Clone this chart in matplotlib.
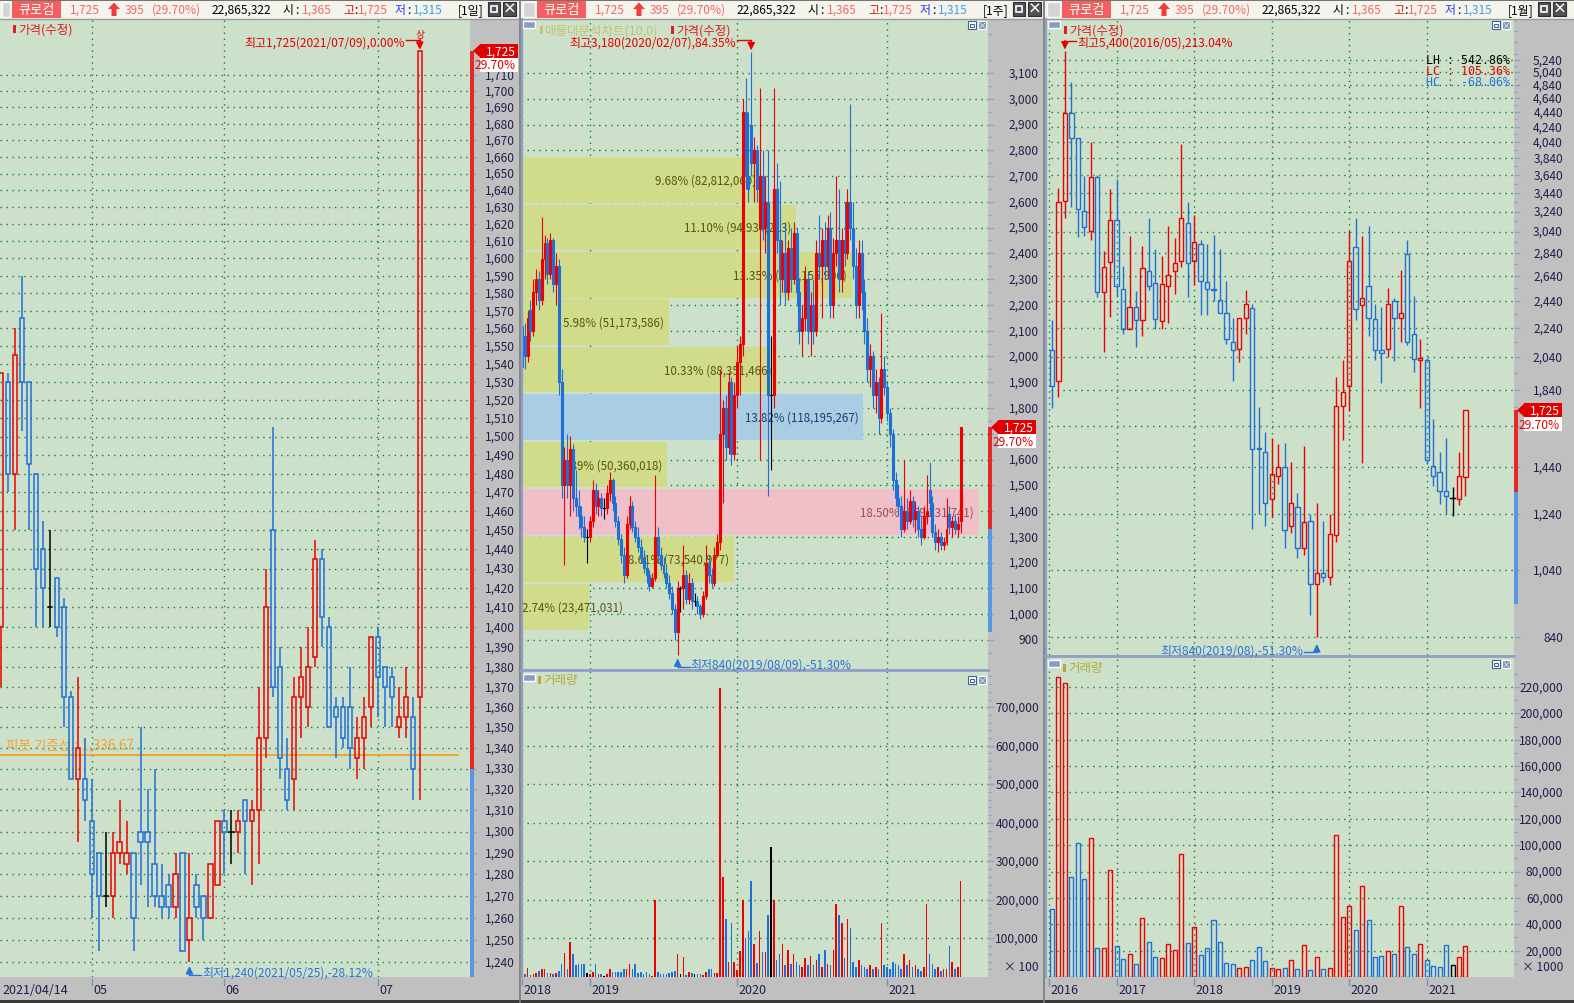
import matplotlib
matplotlib.use('Agg')
import matplotlib.pyplot as plt
import matplotlib.transforms as mtransforms
from matplotlib.patches import Rectangle, Polygon
from matplotlib.ticker import NullLocator, NullFormatter, FixedLocator

plt.rcParams['font.family'] = ['Noto Sans CJK KR', 'DejaVu Sans']
plt.rcParams['axes.unicode_minus'] = False

# ======================= DATA =======================
stock_name = '큐로컴'
last_price = 1725
prev_close = 1330
change = 395
change_pct = 29.70
today_volume = 22865322
today_open, today_high, today_low = 1365, 1725, 1315
pivot_line = 1336.67
support_level = 932

# ---- daily candles 2021/04/14 .. 2021/07/09 ----
d_open = [1400, 1530, 1480, 1566, 1530, 1480, 1440, 1410, 1425, 1410,
          1365, 1325, 1325, 1305, 1290, 1270, 1270, 1290, 1285, 1290,
          1300, 1300, 1285, 1270, 1275, 1265, 1290, 1250, 1275, 1270,
          1260, 1275, 1305, 1300, 1300, 1315, 1305, 1310, 1345, 1450,
          1380, 1330, 1325, 1365, 1360, 1385, 1435, 1400, 1360, 1360,
          1360, 1335, 1345, 1360, 1395, 1380, 1375, 1350, 1355, 1355,
          1365]
d_high = [1535, 1535, 1560, 1590, 1530, 1480, 1455, 1450, 1425, 1415,
          1368, 1375, 1345, 1325, 1290, 1300, 1300, 1315, 1305, 1290,
          1350, 1320, 1330, 1285, 1280, 1290, 1290, 1290, 1280, 1270,
          1285, 1305, 1310, 1310, 1310, 1315, 1315, 1370, 1430, 1505,
          1390, 1345, 1375, 1390, 1400, 1445, 1440, 1405, 1365, 1365,
          1380, 1355, 1365, 1395, 1400, 1380, 1380, 1370, 1380, 1365,
          1725]
d_low = [1370, 1470, 1450, 1503, 1450, 1400, 1400, 1400, 1395, 1350,
         1325, 1295, 1305, 1260, 1245, 1265, 1260, 1285, 1280, 1245,
         1275, 1265, 1265, 1260, 1260, 1260, 1245, 1240, 1260, 1250,
         1260, 1275, 1280, 1285, 1290, 1280, 1275, 1285, 1335, 1365,
         1325, 1310, 1310, 1345, 1350, 1380, 1390, 1350, 1335, 1340,
         1330, 1325, 1330, 1350, 1355, 1350, 1350, 1345, 1345, 1315,
         1315]
d_close = [1535, 1480, 1545, 1530, 1485, 1430, 1420, 1410, 1400, 1365,
           1325, 1340, 1315, 1280, 1270, 1270, 1290, 1295, 1290, 1260,
           1295, 1295, 1270, 1265, 1265, 1280, 1245, 1260, 1265, 1260,
           1285, 1305, 1300, 1300, 1305, 1305, 1310, 1345, 1410, 1370,
           1335, 1315, 1365, 1375, 1380, 1435, 1405, 1350, 1355, 1345,
           1340, 1345, 1355, 1395, 1375, 1370, 1365, 1355, 1365, 1330,
           1725]
d_axis_labels = ['2021/04/14', '05', '06', '07']
d_axis_idx = [0, 13, 32, 54]
d_hi_date, d_lo_date = '2021/07/09', '2021/05/25'

# ---- weekly candles 2018/07/20 .. 2021/07/09 ----
w_open = [2120, 2080, 2000, 2180, 2100, 2250, 2300, 2220, 2380, 2440,
          2320, 2450, 2280, 2350, 1900, 1500, 1600, 1500, 1640, 1450,
          1420, 1380, 1340, 1300, 1300, 1360, 1480, 1420, 1450, 1410,
          1410, 1470, 1520, 1430, 1360, 1290, 1230, 1150, 1350, 1420,
          1340, 1300, 1260, 1220, 1180, 1150, 1110, 1140, 1300, 1230,
          1190, 1160, 1120, 1080, 1020, 930, 1100, 1100, 1150, 1060,
          1120, 1050, 1050, 1030, 1000, 1070, 1200, 1150, 1120, 1230,
          1280, 1700, 1800, 1650, 1900, 1620, 1850, 1980, 2050, 2950,
          2700, 2900, 2750, 2800, 2500, 2700, 2500, 2600, 1850, 1850,
          2650, 2450, 2300, 2400, 2250, 2420, 2300, 2480, 2250, 2100,
          2150, 2300, 2100, 2200, 2100, 2400, 2350, 2450, 2350, 2500,
          2200, 2400, 2450, 2300, 2450, 2400, 2600, 2500, 2350, 2200,
          2400, 2250, 2100, 1950, 2000, 1850, 1900, 1760, 1950, 1880,
          1780, 1700, 1520, 1450, 1420, 1330, 1400, 1360, 1440, 1370,
          1400, 1330, 1300, 1380, 1480, 1430, 1320, 1280, 1300, 1270,
          1280, 1390, 1340, 1360, 1330, 1360]
w_high = [2150, 2130, 2180, 2220, 2300, 2340, 2330, 2540, 2470, 2460,
          2480, 2460, 2400, 2380, 1950, 1650, 1700, 1690, 1660, 1560,
          1480, 1420, 1380, 1330, 1380, 1520, 1510, 1480, 1470, 1450,
          1500, 1550, 1530, 1460, 1380, 1310, 1260, 1380, 1460, 1440,
          1360, 1340, 1290, 1250, 1210, 1170, 1160, 1540, 1340, 1260,
          1220, 1190, 1150, 1110, 1040, 1130, 1110, 1270, 1170, 1160,
          1140, 1080, 1070, 1040, 1090, 1270, 1230, 1180, 1260, 1310,
          1950, 1830, 1850, 1940, 1920, 1900, 2040, 2080, 3000, 3080,
          2950, 3180, 2850, 2820, 3040, 2800, 2700, 2800, 2080, 3040,
          2750, 2680, 2450, 2520, 2450, 2500, 2520, 2500, 2300, 2200,
          2350, 2330, 2250, 2300, 2450, 2550, 2500, 2520, 2550, 2560,
          2460, 2700, 2650, 2500, 2600, 2650, 2980, 2600, 2420, 2450,
          2450, 2300, 2150, 2050, 2020, 1950, 1920, 2170, 2000, 1900,
          1800, 1720, 1550, 1500, 1460, 1600, 1450, 1480, 1460, 1440,
          1420, 1380, 1420, 1540, 1590, 1460, 1350, 1330, 1320, 1300,
          1450, 1420, 1380, 1390, 1380, 1725]
w_low = [1900, 1950, 1980, 2060, 2080, 2200, 2180, 2200, 2300, 2280,
         2300, 2250, 2200, 1850, 1450, 1190, 1450, 1380, 1400, 1380,
         1330, 1300, 1280, 1200, 1280, 1340, 1390, 1380, 1380, 1370,
         1390, 1440, 1400, 1340, 1270, 1200, 1120, 1140, 1330, 1320,
         1280, 1240, 1200, 1160, 1120, 1090, 1100, 1130, 1200, 1170,
         1140, 1100, 1060, 1000, 900, 840, 1010, 1020, 1040, 1040,
         1020, 1030, 1000, 980, 990, 1060, 1120, 1100, 1110, 1220,
         1250, 1430, 1600, 1620, 1580, 1600, 1800, 1850, 2000, 2650,
         2600, 2700, 2600, 2600, 1600, 2450, 2400, 1460, 1560, 1800,
         2400, 2200, 2250, 2200, 2220, 2250, 2280, 2200, 2050, 2000,
         2100, 2050, 2000, 2050, 2080, 2300, 2150, 2300, 2300, 2150,
         2150, 2350, 2250, 2250, 2350, 2380, 2450, 2300, 2150, 2150,
         2180, 2050, 1900, 1880, 1800, 1780, 1700, 1740, 1850, 1750,
         1650, 1480, 1420, 1380, 1300, 1320, 1330, 1350, 1340, 1320,
         1300, 1270, 1290, 1350, 1380, 1300, 1250, 1240, 1250, 1250,
         1270, 1310, 1300, 1310, 1300, 1315]
w_close = [1960, 2000, 2150, 2100, 2250, 2300, 2220, 2380, 2440, 2320,
           2450, 2280, 2350, 1900, 1500, 1600, 1500, 1640, 1450, 1420,
           1380, 1340, 1300, 1300, 1360, 1480, 1420, 1450, 1410, 1410,
           1470, 1520, 1430, 1360, 1290, 1230, 1150, 1350, 1420, 1340,
           1300, 1260, 1220, 1180, 1150, 1110, 1140, 1300, 1230, 1190,
           1160, 1120, 1080, 1020, 930, 1100, 1100, 1150, 1060, 1120,
           1050, 1050, 1030, 1000, 1070, 1200, 1150, 1120, 1230, 1280,
           1700, 1800, 1650, 1900, 1620, 1850, 1980, 2050, 2950, 2700,
           2650, 2750, 2800, 2650, 2700, 2500, 2600, 1850, 1850, 2650,
           2450, 2300, 2400, 2250, 2420, 2300, 2480, 2250, 2100, 2150,
           2300, 2100, 2200, 2100, 2400, 2350, 2450, 2350, 2500, 2200,
           2400, 2450, 2300, 2450, 2400, 2600, 2500, 2350, 2200, 2400,
           2250, 2100, 1950, 2000, 1850, 1900, 1760, 1950, 1880, 1780,
           1700, 1520, 1450, 1420, 1330, 1400, 1360, 1440, 1370, 1400,
           1330, 1300, 1380, 1400, 1430, 1320, 1280, 1300, 1270, 1280,
           1330, 1340, 1360, 1330, 1350, 1725]
w_volume = [15000, 9000, 24000, 4000, 7000, 10000, 15000, 22000, 22000, 11000,
            11000, 9000, 11000, 15000, 35000, 63000, 20000, 92000, 59000, 30000,
            33000, 35000, 33000, 10000, 7000, 13000, 33000, 9000, 9000, 3000,
            9000, 20000, 14000, 14000, 12000, 12000, 22000, 22000, 35000, 22000,
            35000, 10000, 12000, 7000, 12000, 7000, 3000, 200000, 12000, 7000,
            7000, 9000, 10000, 12000, 15000, 60000, 7000, 52000, 4000, 13000,
            10000, 9000, 7000, 7000, 4000, 12000, 20000, 20000, 10000, 10000,
            749000, 260000, 150000, 40000, 140000, 40000, 18000, 68000, 200000, 102000,
            119000, 250000, 85000, 37000, 120000, 64000, 66000, 160000, 338000, 200000,
            45000, 60000, 85000, 30000, 70000, 35000, 60000, 40000, 30000, 25000,
            50000, 30000, 55000, 30000, 45000, 60000, 25000, 70000, 35000, 30000,
            70000, 190000, 160000, 140000, 50000, 150000, 126000, 40000, 25000, 45000,
            30000, 25000, 20000, 30000, 20000, 25000, 20000, 140000, 30000, 25000,
            20000, 40000, 35000, 30000, 20000, 60000, 30000, 45000, 25000, 30000,
            20000, 15000, 25000, 190000, 60000, 35000, 20000, 25000, 15000, 20000,
            20000, 80000, 40000, 20000, 25000, 250000]
w_axis_labels = ['2018', '2019', '2020', '2021']
w_axis_idx = [0, 24, 76, 129]
w_hi_date, w_lo_date = '2020/02/07', '2019/08/09'

# ---- volume profile (매물대분석차트 10 bands, bottom -> top) ----
profile_low, profile_high = 936, 2777
profile_pct = [2.74, 8.61, 18.50, 5.89, 13.82, 10.33, 5.98, 13.35, 11.10, 9.68]
profile_vol = [23471031, 73540977, 158231741, 50360018, 118195267,
               88351466, 51173586, 114155906, 94934213, 82812069]

# ---- monthly candles 2016/03 .. 2021/07 ----
m_open = [2085, 1890, 3350, 4435, 4095, 3245, 3050, 3620, 2510, 2760,
          3150, 2530, 2230, 2390, 2300, 2680, 2580, 2290, 2560, 2685,
          2765, 3120, 2765, 2925, 2590, 2535, 2450, 2345, 2140, 2095,
          2310, 2385, 1530, 1510, 1300, 1400, 1440, 1195, 1270, 1115,
          1215, 995, 1030, 1015, 1160, 1750, 1860, 2895, 2410, 2555,
          2305, 2085, 2095, 2440, 2310, 2835, 2195, 2020, 2025, 1445,
          1420, 1335, 1305, 1300, 1395]
m_high = [2300, 3490, 5400, 4890, 4095, 3625, 4035, 3640, 2860, 3485,
          3595, 2725, 2995, 2520, 2905, 3170, 2880, 2815, 3090, 2975,
          4015, 3340, 3205, 2960, 2925, 3010, 2875, 2595, 2310, 2310,
          2525, 2415, 1745, 1610, 1580, 1550, 1555, 1465, 1325, 1540,
          1240, 1285, 1215, 1240, 1915, 2020, 3050, 3170, 2995, 3090,
          2415, 2390, 2540, 2460, 2690, 2960, 2480, 2160, 2035, 1675,
          1510, 1580, 1350, 1510, 1725]
m_low = [1735, 1800, 3170, 3290, 2990, 3000, 2960, 2470, 2075, 2320,
         2480, 2195, 2230, 2110, 2180, 2525, 2230, 2230, 2275, 2495,
         2720, 2470, 2570, 2335, 2335, 2440, 2345, 2130, 1890, 2010,
         2195, 1185, 1240, 1195, 1230, 1365, 1115, 1170, 1080, 1090,
         900, 840, 1000, 990, 1135, 1570, 1720, 2300, 1460, 2180,
         2025, 1880, 2045, 2015, 2140, 2120, 1950, 1735, 1460, 1355,
         1280, 1240, 1235, 1275, 1315]
m_close = [1865, 3340, 4435, 4095, 3270, 3085, 3620, 2510, 2720, 3150,
           2560, 2230, 2390, 2300, 2705, 2560, 2305, 2575, 2650, 2750,
           3170, 2750, 2945, 2595, 2535, 2525, 2345, 2160, 2090, 2310,
           2415, 1525, 1525, 1285, 1410, 1440, 1180, 1285, 1115, 1210,
           995, 1030, 1015, 1165, 1750, 1825, 2765, 2375, 2460, 2310,
           2085, 2070, 2415, 2310, 2345, 2140, 2030, 2035, 1475, 1400,
           1335, 1315, 1305, 1400, 1725]
m_volume = [51400, 227500, 223000, 76200, 101900, 74100, 105700, 21700, 21700, 81500,
            23200, 13400, 17400, 9800, 45100, 26200, 14900, 14100, 25000, 20200,
            93600, 25500, 37600, 16400, 21700, 42900, 26200, 10600, 9800, 6600,
            7300, 12600, 22400, 11900, 6600, 5800, 6600, 12600, 5800, 24000,
            5000, 14900, 5800, 6600, 107900, 45900, 53500, 35300, 69400, 42900,
            14900, 15600, 19400, 17400, 53500, 22400, 17400, 25000, 12600, 8100,
            7300, 24000, 8800, 14900, 23200]
m_axis_labels = ['2016', '2017', '2018', '2019', '2020', '2021']
m_axis_idx = [-0.5, 10, 22, 34, 46, 58]
m_hi_date, m_lo_date = '2016/05', '2019/08'

# price / volume axis tick values
d_ticks = list(range(1240, 1711, 10))
w_ticks = list(range(900, 3101, 100))
w_minor = list(range(850, 3251, 100))
m_ticks = list(range(840, 5241, 200))
m_minor = list(range(940, 5941, 200))
wv_ticks = list(range(100000, 700001, 100000))
wv_minor = [v for v in range(20000, 780001, 20000) if v % 100000]
mv_ticks = list(range(20000, 220001, 20000))
mv_minor = [v for v in range(10000, 240001, 20000)]

# ======================= STYLE =======================
W, H = 1574, 1004
BG = '#cde1ca'
GRID = '#0b7d3e'
RED = '#ee0000'
BLUE = '#1f6fd8'
BLACK = '#000000'
AXGREY = '#c0c0c0'
TICKC = '#8ea2c6'
LBL = '#1e1e4a'
FS = 8.6
DOTS = (0, (1, 3.3))

fig = plt.figure(figsize=(W / 100, H / 100), dpi=100)
fig.patch.set_facecolor(AXGREY)


def px_axes(x0, y0, x1, y1):
    ax = fig.add_axes([x0 / W, 1 - y1 / H, (x1 - x0) / W, (y1 - y0) / H])
    ax.set_facecolor(BG)
    for s in ax.spines.values():
        s.set_visible(False)
    ax.set_axisbelow(True)
    return ax


def colour(o, c):
    return RED if c > o else (BLUE if c < o else BLACK)


def draw_candles(ax, O, Hi, Lo, C, width, lw, hollow):
    for x, (o, h, l, c) in enumerate(zip(O, Hi, Lo, C)):
        col = colour(o, c)
        top, bot = max(o, c), min(o, c)
        if h > top:
            ax.plot([x, x], [top, h], color=col, lw=lw, solid_capstyle='butt', zorder=4)
        if l < bot:
            ax.plot([x, x], [l, bot], color=col, lw=lw, solid_capstyle='butt', zorder=4)
        if top == bot:
            ax.plot([x - width / 2, x + width / 2], [top, top], color=col, lw=lw, zorder=4)
        else:
            ax.add_patch(Rectangle((x - width / 2, bot), width, top - bot, fill=not hollow,
                                   facecolor=col, edgecolor=col, lw=lw, zorder=4))


def style_axis(ax, ticks, minor, xgrid, label_px, x0, w, fmt, hide_marker=False):
    ax.set_yticks(ticks)
    if minor:
        ax.yaxis.set_minor_locator(FixedLocator(minor))
    else:
        ax.yaxis.set_minor_locator(NullLocator())
    ax.yaxis.set_major_formatter(NullFormatter())
    ax.yaxis.set_minor_formatter(NullFormatter())
    ax.yaxis.set_ticks_position('right')
    ax.tick_params(axis='y', which='major', direction='out', length=4, width=1, color=TICKC)
    ax.tick_params(axis='y', which='minor', direction='out', length=2.5, width=1, color=TICKC)
    ax.set_xticks(xgrid)
    ax.tick_params(axis='x', length=0, labelbottom=False)
    ax.grid(True, which='major', color=GRID, ls=DOTS, lw=1.0)
    tr = mtransforms.blended_transform_factory(ax.transAxes, ax.transData)
    xf = (label_px - x0) / w
    yc = H - ax.transData.transform((0, last_price))[1]
    for t in ticks:
        ty = H - ax.transData.transform((0, t))[1]
        if hide_marker and (yc - 10) < ty < (yc + 22):
            continue  # hidden behind the current-price marker
        ax.text(xf, t, fmt(t), transform=tr, ha='right', va='center', fontsize=FS,
                color=LBL, clip_on=False)


def comma(v):
    return f'{v:,}'


# ---------------- geometry ----------------
P1 = (0, 20, 470, 978)
P2 = (521, 20, 988, 670)
P2V = (521, 672, 988, 978)
P3 = (1045, 20, 1514, 656)
P3V = (1045, 658, 1514, 978)
D_FIRST, D_STEP = 1, 6.98
W_FIRST, W_STEP = 522, 2.83
M_FIRST, M_STEP = 1052, 6.46

# ---------------- left: daily ----------------
ax1 = px_axes(*P1)
ax1.set_yscale('log')
ax1.set_ylim(1233.3, 1745)
ax1.set_xlim((P1[0] - D_FIRST) / D_STEP, (P1[2] - D_FIRST) / D_STEP)
style_axis(ax1, d_ticks, None, d_axis_idx[1:], 515, P1[0], P1[2] - P1[0], comma, True)
draw_candles(ax1, d_open, d_high, d_low, d_close, 0.62, 1.1, True)
ax1.axhline(pivot_line, xmin=0, xmax=458 / 470, color='#f5a020', lw=1.3, zorder=3)
tpiv = mtransforms.offset_copy(mtransforms.blended_transform_factory(ax1.transAxes, ax1.transData),
                               fig=fig, x=0, y=4, units='dots')
ax1.text(6 / 470, pivot_line, f'피봇 기준선 : {pivot_line:,.2f}', transform=tpiv, ha='left',
         va='bottom', fontsize=FS + 1.2, color='#f2a43a', zorder=2)

# ---------------- middle: weekly ----------------
ax2 = px_axes(*P2)
ax2.set_ylim(787, 3309.5)
ax2.set_xlim((P2[0] - W_FIRST) / W_STEP, (P2[2] - W_FIRST) / W_STEP)
style_axis(ax2, w_ticks, w_minor, w_axis_idx, 1039, P2[0], P2[2] - P2[0], comma, True)

trb = mtransforms.blended_transform_factory(ax2.transAxes, ax2.transData)
pstep = (profile_high - profile_low) / len(profile_pct)
pmax = max(profile_pct)
cur_band = int((last_price - profile_low) // pstep)
axw2 = P2[2] - P2[0]
full_frac = 458 / axw2
for k, (p, v) in enumerate(zip(profile_pct, profile_vol)):
    y0 = profile_low + k * pstep
    wf = p / pmax * full_frac
    if p == pmax:
        fc, tc = '#f0c0c8', '#a04858'
    elif k == cur_band:
        fc, tc = '#a9cde2', '#1a3c6c'
    else:
        fc, tc = '#d0dc8a', '#55550f'
    ax2.add_patch(Rectangle((0, y0 + pstep * 0.02), wf, pstep * 0.96, transform=trb,
                            fc=fc, ec='none', zorder=1))
    label = f'{p:.2f}% ({v:,})'
    if wf * axw2 > 118:
        ax2.text(wf - 5 / axw2, y0 + pstep / 2, label, transform=trb, ha='right', va='center',
                 fontsize=8.3, color=tc, zorder=2)
    else:
        ax2.text(1 / axw2, y0 + pstep / 2, label, transform=trb, ha='left', va='center',
                 fontsize=8.3, color=tc, zorder=2)
draw_candles(ax2, w_open, w_high, w_low, w_close, 0.7, 0.8, False)

ax2v = px_axes(*P2V)
ax2v.set_ylim(0, 794000)
ax2v.set_xlim(ax2.get_xlim())
style_axis(ax2v, wv_ticks, wv_minor, w_axis_idx, 1039, P2V[0], P2V[2] - P2V[0], comma)
wcols = [colour(o, c) for o, c in zip(w_open, w_close)]
ax2v.bar(range(len(w_volume)), w_volume, width=0.55, color=wcols, lw=0, zorder=3)

# ---------------- right: monthly ----------------
ax3 = px_axes(*P3)
ax3.set_yscale('log')
ax3.set_ylim(793.4, 5968)
ax3.set_xlim((P3[0] - M_FIRST) / M_STEP, (P3[2] - M_FIRST) / M_STEP)
style_axis(ax3, m_ticks, m_minor, m_axis_idx, 1563, P3[0], P3[2] - P3[0], comma, True)
draw_candles(ax3, m_open, m_high, m_low, m_close, 0.66, 1.0, True)

ax3v = px_axes(*P3V)
ax3v.set_ylim(0, 242800)
ax3v.set_xlim(ax3.get_xlim())
style_axis(ax3v, mv_ticks, mv_minor, m_axis_idx, 1563, P3V[0], P3V[2] - P3V[0], comma)
mcols = [colour(o, c) for o, c in zip(m_open, m_close)]
ax3v.bar(range(len(m_volume)), m_volume, width=0.62, fill=False, edgecolor=mcols, lw=1.0, zorder=3)

# ======================= OVERLAY (pixel coords) =======================
ov = fig.add_axes([0, 0, 1, 1], zorder=10)
ov.set_xlim(0, W)
ov.set_ylim(H, 0)
ov.axis('off')
ov.patch.set_alpha(0)


def to_px(ax, x, y):
    X, Y = ax.transData.transform((x, y))
    return X, H - Y


SAL = '#f26a6a'


def header(p0, p1, rb, period):
    ov.add_patch(Rectangle((p0, 0), p1 - p0, 20, fc='#f4f4ec', ec='none'))
    ov.plot([p0, p1], [0.8, 0.8], color='#5a5a5a', lw=1.2)
    ov.plot([p0, p1], [19.6, 19.6], color='#9a9a9a', lw=1)
    ov.add_patch(Rectangle((p0 + 1.5, 2.5), rb - p0 - 4, 15, fc='#d4d4d4', ec='#f8f8f8', lw=1))
    ov.add_patch(Rectangle((rb, 2), 49, 16.5, fc='#f25f5f', ec='none'))
    ov.text(rb + 24.5, 10.5, stock_name, color='white', ha='center', va='center', fontsize=9.5)
    y = 10.5
    kw = dict(va='center', fontsize=FS)
    ov.text(rb + 58, y, f'{last_price:,}', color=SAL, **kw)
    cx = rb + 102
    ov.add_patch(Polygon([[cx, 3.5], [cx - 6, 10], [cx - 2.5, 10], [cx - 2.5, 17],
                          [cx + 2.5, 17], [cx + 2.5, 10], [cx + 6, 10]], closed=True,
                         fc='#f03c3c', ec='none'))
    ov.text(rb + 113, y, f'{change}', color=SAL, **kw)
    ov.text(rb + 140, y, f'({change_pct:.2f}%)', color=SAL, **kw)
    ov.text(rb + 200, y, f'{today_volume:,}', color='black', **kw)
    ov.text(rb + 271, y, '시', color='black', **kw)
    ov.text(rb + 283, y, ':', color='black', **kw)
    ov.text(rb + 290, y, f'{today_open:,}', color=SAL, **kw)
    ov.text(rb + 331, y, '고', color='#e01010', **kw)
    ov.text(rb + 342, y, ':', color='black', **kw)
    ov.text(rb + 346, y, f'{today_high:,}', color=SAL, **kw)
    ov.text(rb + 383, y, '저', color='#2a36ff', **kw)
    ov.text(rb + 395, y, ':', color='black', **kw)
    ov.text(rb + 401, y, f'{today_low:,}', color='#3ca0e6', **kw)
    ov.text(rb + 446, y, period, color='black', **kw)
    ov.add_patch(Rectangle((rb + 476, 3), 12, 14, fc='#505058', ec='#303030', lw=0.8))
    ov.add_patch(Rectangle((rb + 491, 3), 13, 14, fc='#505058', ec='#303030', lw=0.8))
    ov.add_patch(Rectangle((rb + 479, 7), 6, 5.5, fc='none', ec='white', lw=1.2))
    ov.text(rb + 497.5, 10, '×', color='white', ha='center', va='center', fontsize=10,
            fontweight='bold')


header(0, 519, 12, '[1일]')
header(521, 1043, 537, '[1주]')
header(1045, 1574, 1062, '[1월]')

# dividers / borders
ov.plot([519.5, 519.5], [0, H], color='#7c7c7c', lw=1.2)
ov.plot([1043.8, 1043.8], [0, H], color='#7c7c7c', lw=1.2)
for xx in (521.8, 1045.8):
    ov.plot([xx, xx], [20, 978], color='#8fa0c4', lw=1.6)
ov.plot([521, 988], [671, 671], color='#8fa0c4', lw=2)
ov.plot([1045, 1514], [657, 657], color='#8fa0c4', lw=2)
ov.add_patch(Rectangle((0, 1001), W, 3, fc='#3a3a3a', ec='none'))


def small_icon(x, y):
    ov.add_patch(Rectangle((x, y), 12, 7, fc='#8a9cc4', ec='white', lw=1))


def buttons(x, y):
    ov.add_patch(Rectangle((x, y), 8, 8, fc='white', ec='#44609c', lw=0.8))
    ov.add_patch(Rectangle((x + 2, y + 2.5), 4, 3.5, fc='none', ec='#44609c', lw=0.8))
    ov.add_patch(Rectangle((x + 10, y), 8, 8, fc='#7b8fb8', ec='white', lw=0.8))
    ov.text(x + 14, y + 4, '×', color='white', ha='center', va='center', fontsize=6.5)


def series_label(x, y, text, col, mcol=None):
    ov.add_patch(Rectangle((x, y - 4), 2.5, 8, fc=mcol or col, ec='none'))
    ov.text(x + 5, y, text, color=col, va='center', fontsize=FS + 0.4)


# legends
series_label(13, 30, '가격(수정)', '#e02020')
small_icon(523, 21.5)
series_label(540, 31, '매물대분석차트(10,0)', '#c4c46e')
series_label(671, 31, '가격(수정)', '#e02020')
buttons(968, 22)
small_icon(1048, 21.5)
series_label(1064, 31, '가격(수정)', '#e02020')
buttons(1492, 22)
small_icon(523, 675)
series_label(538, 681, '거래량', '#b4aa3c')
buttons(968, 677)
small_icon(1048, 661)
series_label(1063, 669, '거래량', '#b4aa3c')
buttons(1492, 661)

ARW = dict(arrowstyle='-|>,head_length=0.45,head_width=0.22', lw=1, shrinkA=0, shrinkB=0)


def arrow(x, y0, y1, col):
    ov.annotate('', xy=(x, y1), xytext=(x, y0), arrowprops=dict(color=col, **ARW))


# --- high / low annotations ---
HC = '#e60000'
LC_ = '#2a72d8'
# daily
i = d_high.index(max(d_high))
cx, cy = to_px(ax1, i, d_high[i])
ov.text(cx - 15, cy - 9, f'최고{d_high[i]:,}({d_hi_date}),{(d_high[i] - last_price) / last_price * 100:.2f}%',
        ha='right', va='center', color=HC, fontsize=FS)
ov.plot([cx - 14, cx], [cy - 11, cy - 11], color=HC, lw=1)
arrow(cx, cy - 11, cy - 1, HC)
ov.text(cx, cy - 17, '상', color=HC, ha='center', va='center', fontsize=7)
i = d_low.index(min(d_low))
cx, cy = to_px(ax1, i, d_low[i])
ov.text(cx + 13, cy + 10, f'최저{d_low[i]:,}({d_lo_date}),{(d_low[i] - last_price) / last_price * 100:.2f}%',
        ha='left', va='center', color=LC_, fontsize=FS)
ov.plot([cx, cx + 12], [cy + 13, cy + 13], color=LC_, lw=1)
arrow(cx, cy + 13, cy + 4, LC_)
# weekly
i = w_high.index(max(w_high))
cx, cy = to_px(ax2, i, w_high[i])
ov.text(cx - 15, cy - 10, f'최고{w_high[i]:,}({w_hi_date}),{(w_high[i] - last_price) / last_price * 100:.2f}%',
        ha='right', va='center', color=HC, fontsize=FS)
ov.plot([cx - 14, cx], [cy - 12, cy - 12], color=HC, lw=1)
arrow(cx, cy - 12, cy - 2, HC)
i = w_low.index(min(w_low))
cx, cy = to_px(ax2, i, w_low[i])
ov.text(cx + 13, cy + 9, f'최저{w_low[i]:,}({w_lo_date}),{(w_low[i] - last_price) / last_price * 100:.2f}%',
        ha='left', va='center', color=LC_, fontsize=FS)
ov.plot([cx, cx + 12], [cy + 12, cy + 12], color=LC_, lw=1)
arrow(cx, cy + 12, cy + 3, LC_)
# monthly
i = m_high.index(max(m_high))
cx, cy = to_px(ax3, i, m_high[i])
ov.text(cx + 12, cy - 8, f'최고{m_high[i]:,}({m_hi_date}),{(m_high[i] - last_price) / last_price * 100:.2f}%',
        ha='left', va='center', color=HC, fontsize=FS)
ov.plot([cx, cx + 11], [cy - 10, cy - 10], color=HC, lw=1)
arrow(cx, cy - 10, cy - 1, HC)
i = m_low.index(min(m_low))
cx, cy = to_px(ax3, i, m_low[i])
ov.text(cx - 14, cy + 13, f'최저{m_low[i]:,}({m_lo_date}),{(m_low[i] - last_price) / last_price * 100:.2f}%',
        ha='right', va='center', color=LC_, fontsize=FS)
ov.plot([cx - 13, cx], [cy + 15, cy + 15], color=LC_, lw=1)
arrow(cx, cy + 15, cy + 7, LC_)

# LH / LC / HC
mh, ml = max(m_high), min(m_low)
MONO = dict(va='center', fontsize=8.4, family=['DejaVu Sans Mono'])
ov.text(1426, 60, f'LH : {(mh - ml) / ml * 100:.2f}%', color='black', **MONO)
ov.text(1426, 71.5, f'LC : {(last_price - ml) / ml * 100:.2f}%', color='#e00000', **MONO)
ov.text(1426, 83, f'HC : {(last_price - mh) / mh * 100:.2f}%', color='#2a72d8', **MONO)

# --- current price markers & bars on the axis edge ---
for ax, P in ((ax1, P1), (ax2, P2), (ax3, P3)):
    edge = P[2]
    _, yc = to_px(ax, 0, last_price)
    _, yp = to_px(ax, 0, prev_close)
    _, ys = to_px(ax, 0, support_level)
    ys = min(ys, P[3])
    ov.add_patch(Rectangle((edge, yc), 3.5, yp - yc, fc='#e42828', ec='none'))
    ov.add_patch(Rectangle((edge, yp), 3.5, ys - yp, fc='#5a96e6', ec='none'))
    ov.add_patch(Polygon([[edge + 3, yc], [edge + 10, yc - 6.5], [edge + 10, yc + 6.5]], closed=True,
                         fc='#e00000', ec='none'))
    ov.add_patch(Rectangle((edge + 10, yc - 7), 38, 14, fc='#e00000', ec='none'))
    ov.text(edge + 46, yc, f'{last_price:,}', color='white', ha='right', va='center', fontsize=FS)
    ov.add_patch(Rectangle((edge + 10, yc + 7), 38, 14, fc='white', ec='none'))
    ov.text(edge + 46, yc + 14, f'{change_pct:.2f}%', color='#e00000', ha='right', va='center', fontsize=FS)

# volume unit labels
ov.text(1039, 968, '× 100', color=LBL, ha='right', va='center', fontsize=FS)
ov.text(1563, 968, '× 1000', color=LBL, ha='right', va='center', fontsize=FS)

# --- date axes ---
for ax, labels, idxs in ((ax1, d_axis_labels, d_axis_idx), (ax2, w_axis_labels, w_axis_idx),
                         (ax3, m_axis_labels, m_axis_idx)):
    for lab, ix in zip(labels, idxs):
        gx, _ = to_px(ax, ix, ax.get_ylim()[0])
        gx = max(gx, ax.get_position().x0 * W + 1)
        if lab != '2021/04/14':
            ov.plot([gx, gx], [980, 986], color='#8090b0', lw=1)
        ov.text(gx + 1.5, 991, lab, color=LBL, ha='left', va='center', fontsize=FS + 0.4)

fig.savefig('out.png', dpi=100, facecolor=fig.get_facecolor())
